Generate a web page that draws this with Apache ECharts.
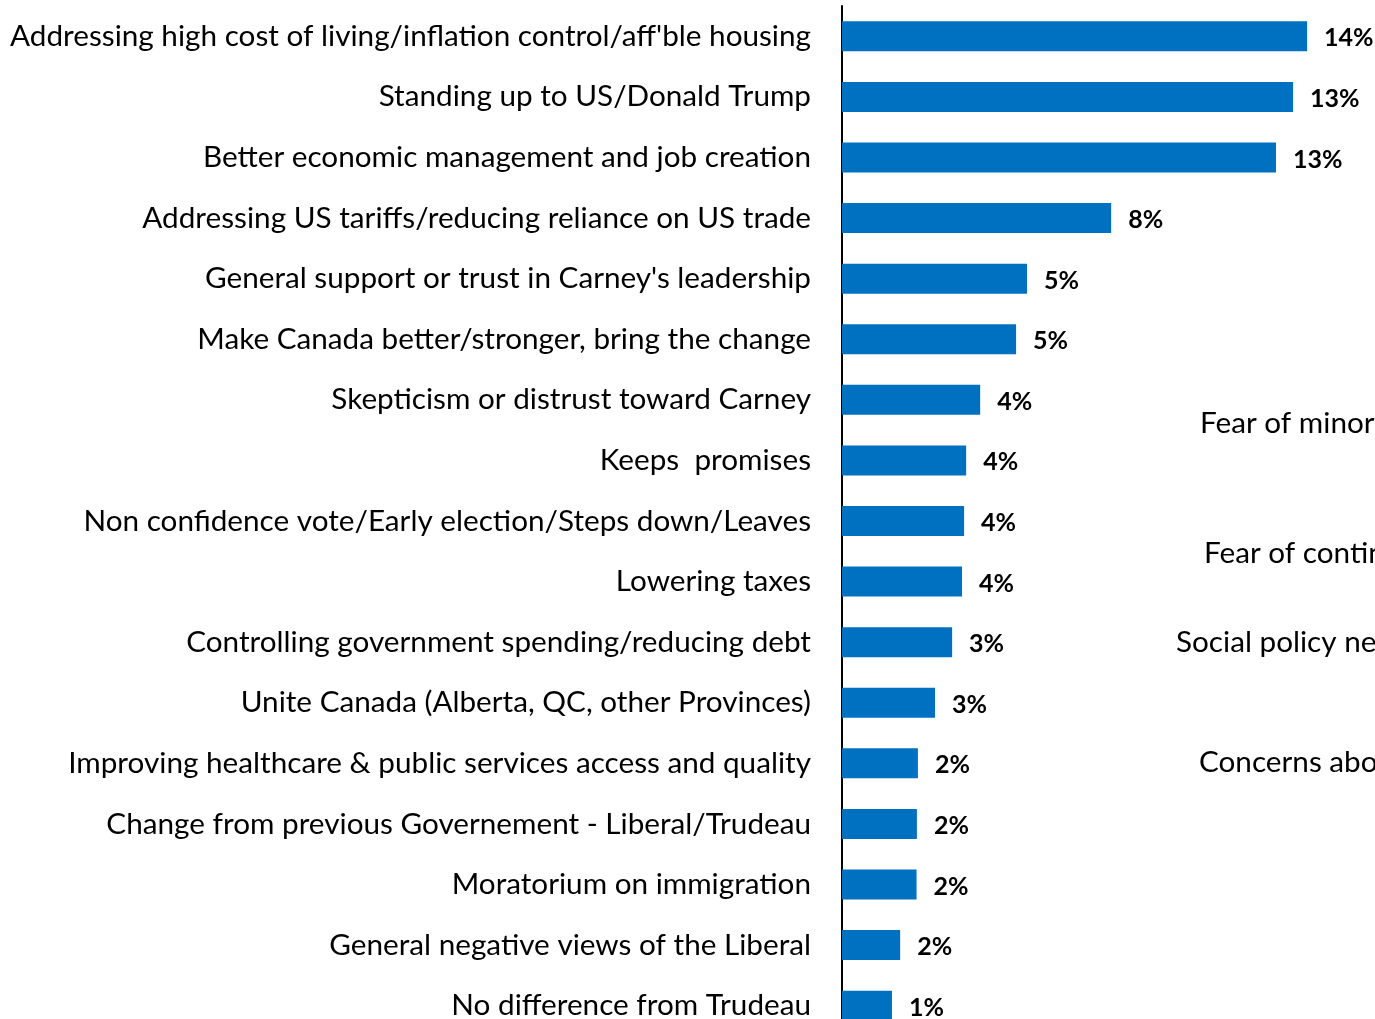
<!DOCTYPE html>
<html>
<head>
<meta charset="utf-8">
<script src="https://cdn.jsdelivr.net/npm/echarts@6/dist/echarts.min.js"></script>
<style>
  html, body { margin: 0; padding: 0; background: #fff; overflow: hidden; }
  #main { width: 1375px; height: 1040px; }
</style>
</head>
<body>
<div id="main"></div>
<script>
// reasons, top to bottom
var categories = [
    "Addressing high cost of living/inflation control/aff'ble housing",
    'Standing up to US/Donald Trump',
    'Better economic management and job creation',
    'Addressing US tariffs/reducing reliance on US trade',
    "General support or trust in Carney's leadership",
    'Make Canada better/stronger, bring the change',
    'Skepticism or distrust toward Carney',
    'Keeps  promises',
    'Non confidence vote/Early election/Steps down/Leaves',
    'Lowering taxes',
    'Controlling government spending/reducing debt',
    'Unite Canada (Alberta, QC, other Provinces)',
    'Improving healthcare & public services access and quality',
    'Change from previous Governement - Liberal/Trudeau',
    'Moratorium on immigration',
    'General negative views of the Liberal',
    'No difference from Trudeau'
];
// percent
var values = [13.6, 13.19, 12.69, 7.87, 5.41, 5.09, 4.04, 3.63, 3.57, 3.51, 3.22, 2.72, 2.22, 2.19, 2.18, 1.7, 1.46];

// labels of the neighbouring chart, cut off at the right edge
var sideLabels = ['Fear of minority', 'Fear of continuing', 'Social policy needs', 'Concerns about'];
var sideX = [1200, 1204, 1176, 1199];
var sideY = [425, 555, 644, 764];

var FONT = 'Lato, "Open Sans", sans-serif';

var myChart = echarts.init(document.getElementById('main'));
myChart.setOption({
    animation: false,
    grid: {
        left: 842,
        right: 20,
        top: 6,
        bottom: 4,
        containLabel: false
    },
    xAxis: {
        type: 'value',
        min: 0,
        max: 15,
        show: false
    },
    yAxis: {
        type: 'category',
        inverse: true,
        data: categories,
        axisLine: { show: true, lineStyle: { color: '#000', width: 2 } },
        axisTick: { show: false },
        axisLabel: {
            margin: 31,
            color: '#000',
            fontSize: 29.7,
            fontFamily: FONT
        }
    },
    series: [{
        type: 'bar',
        data: values,
        barWidth: 30,
        itemStyle: { color: '#0070C0' },
        label: {
            show: true,
            position: 'right',
            distance: 17,
            offset: [0, 2],
            color: '#000',
            fontSize: 25,
            fontWeight: 'bold',
            fontFamily: FONT,
            formatter: function (p) {
                return Math.round(p.value) + '%';
            }
        }
    }],
    graphic: sideLabels.map(function (t, i) {
        return {
            type: 'text',
            left: sideX[i],
            top: sideY[i] - 17,
            style: {
                text: t,
                fill: '#000',
                font: '29.7px ' + FONT
            }
        };
    })
});
</script>
</body>
</html>
